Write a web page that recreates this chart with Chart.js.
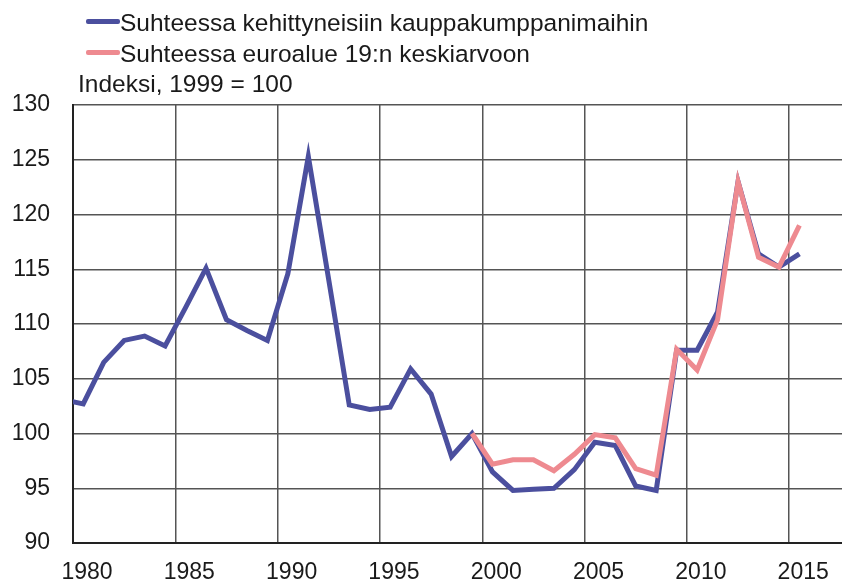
<!DOCTYPE html>
<html>
<head>
<meta charset="utf-8">
<script src="https://cdn.jsdelivr.net/npm/chart.js@4.4.1/dist/chart.umd.min.js"></script>
<style>
  html, body { margin:0; padding:0; background:#fff; }
  .wrap { position:relative; width:842px; height:584px; overflow:hidden; font-family:"Liberation Sans", Arial, sans-serif; color:#1a1a1a; }
  .wrap canvas { position:absolute; left:0; top:0; }
  .txt { position:absolute; font-size:24.5px; line-height:24.5px; white-space:nowrap; }
  .mk { position:absolute; left:86px; width:34px; height:5px; border-radius:2px; }
</style>
</head>
<body>
<div class="wrap">
  <canvas id="c" width="842" height="584"></canvas>
  <div class="mk" style="top:19px;background:#4b4f9e"></div>
  <div class="txt" style="left:120px;top:11px">Suhteessa kehittyneisiin kauppakumppanimaihin</div>
  <div class="mk" style="top:50px;background:#ee8a90"></div>
  <div class="txt" style="left:120px;top:41.5px">Suhteessa euroalue 19:n keskiarvoon</div>
  <div class="txt" style="left:78px;top:72px">Indeksi, 1999 = 100</div>
</div>
<script>
// vuodet ja indeksit (1999 = 100)
const yearsDev = [1979,1980,1981,1982,1983,1984,1985,1986,1987,1988,1989,1990,1991,1992,1993,1994,1995,1996,1997,1998,1999,2000,2001,2002,2003,2004,2005,2006,2007,2008,2009,2010,2011,2012,2013,2014,2015];
const valuesDev = [103.1,102.7,106.5,108.5,108.9,108.0,111.5,115.1,110.4,109.4,108.5,114.6,125.3,114.0,102.6,102.2,102.4,105.9,103.6,97.9,100.0,96.5,94.8,94.9,95.0,96.7,99.2,98.9,95.2,94.8,107.6,107.6,111.1,123.0,116.4,115.2,116.4];
const yearsEuro = [1999,2000,2001,2002,2003,2004,2005,2006,2007,2008,2009,2010,2011,2012,2013,2014,2015];
const valuesEuro = [100.0,97.2,97.6,97.6,96.6,98.1,99.9,99.6,96.8,96.2,107.7,105.8,110.4,123.0,116.1,115.2,119.0];
const yTicks = [90,95,100,105,110,115,120,125,130];
const xLabelYears = [1980,1985,1990,1995,2000,2005,2010,2015];

const labelsDev = 'Suhteessa kehittyneisiin kauppakumppanimaihin';
const labelsEuro = 'Suhteessa euroalue 19:n keskiarvoon';

const toPts = (xs, ys) => xs.map((x,i)=>({x:x, y:ys[i]}));
const font = { family:'"Liberation Sans", Arial, sans-serif', size:23 };

new Chart(document.getElementById('c'), {
  type:'line',
  data:{ datasets:[
    { label:labelsEuro, data:toPts(yearsEuro, valuesEuro), borderColor:'#ee8a90', borderWidth:5, pointRadius:0, tension:0, order:0 },
    { label:labelsDev, data:toPts(yearsDev, valuesDev), borderColor:'#4b4f9e', borderWidth:5, pointRadius:0, tension:0, order:1 }
  ]},
  options:{
    responsive:false, animation:false, devicePixelRatio:1,
    layout:{ padding:{ top:105, right:0, left:0, bottom:0 } },
    plugins:{ legend:{ display:false }, tooltip:{ enabled:false } },
    scales:{
      x:{ type:'linear', min:1979.5, max:2017.08,
        // ruudukko luokkien rajoilla, nimiöt luokan keskellä
        afterBuildTicks:s=>{ s.ticks = xLabelYears.map(y=>({value:y-0.5})); },
        afterFit:s=>{ s.height = 41; },
        ticks:{ color:'#1a1a1a', font:font, padding:16, labelOffset:14, maxRotation:0, autoSkip:false, callback:v=>String(Math.round(v+0.5)) },
        grid:{ color:'#555', lineWidth:1.5, drawTicks:false },
        border:{ color:'#222', width:2 }
      },
      y:{ min:90, max:130,
        afterBuildTicks:s=>{ s.ticks = yTicks.map(v=>({value:v})); },
        afterFit:s=>{ s.width = 73; },
        ticks:{ color:'#1a1a1a', font:font, padding:23 },
        grid:{ color:'#555', lineWidth:1.5, drawTicks:false },
        border:{ color:'#222', width:2 }
      }
    }
  }
});
</script>
</body>
</html>
